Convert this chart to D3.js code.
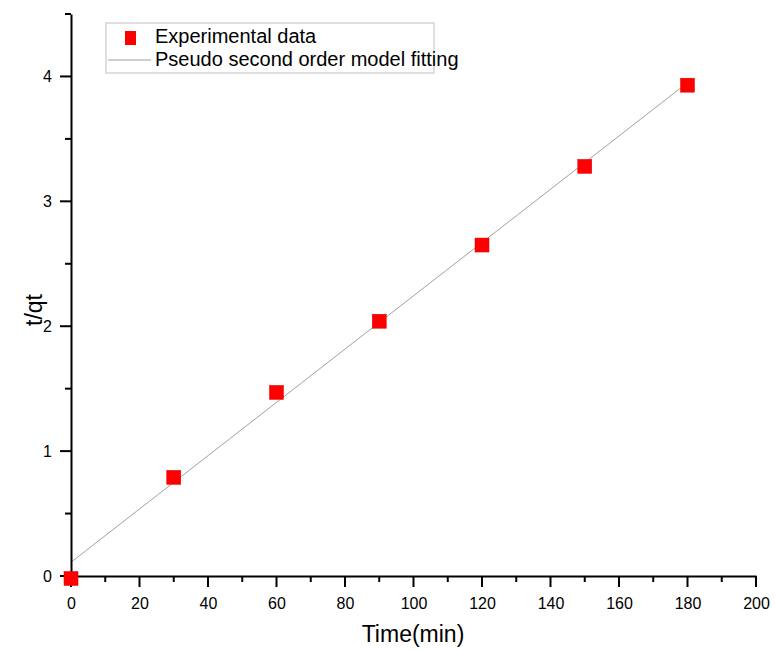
<!DOCTYPE html>
<html><head><meta charset="utf-8">
<script src="https://cdn.jsdelivr.net/npm/d3@7"></script>
<style>body{margin:0;background:#fff;} text{font-family:"Liberation Sans",Arial,sans-serif;}</style>
</head><body>
<svg id="c" width="775" height="650"></svg>
<script>
const timeMin = [0, 30, 60, 90, 120, 150, 180];
const tqt = [-0.02, 0.79, 1.47, 2.04, 2.65, 3.28, 3.93];
const fitTime = [0, 180];
const fitTqt = [0.11, 3.95];
const xTicks = [0,20,40,60,80,100,120,140,160,180,200];
const yTicks = [0,1,2,3,4];
const legendLabels = ["Experimental data", "Pseudo second order model fitting"];

const svg = d3.select("#c");
const x = d3.scaleLinear().domain([0,200]).range([71,756]);
const y = d3.scaleLinear().domain([0,4.5]).range([576,14]);

const xMinor = d3.range(10,200,20);
const yMinor = [0.5,1.5,2.5,3.5,4.5];

// fit line
svg.append("path")
  .datum(fitTime.map((t,i)=>[t,fitTqt[i]]))
  .attr("d", d3.line().x(d=>x(d[0])).y(d=>y(d[1])))
  .attr("fill","none").attr("stroke","#a0a0a0").attr("stroke-width",1);

// axes (labels via d3 axis, tick marks drawn explicitly)
const xAxis = svg.append("g").attr("transform","translate(0,576)")
  .call(d3.axisBottom(x).tickValues(xTicks).tickSize(0).tickPadding(22).tickFormat(d3.format("d")));
const yAxis = svg.append("g").attr("transform","translate(71,0)")
  .call(d3.axisLeft(y).tickValues(yTicks).tickSize(0).tickPadding(19).tickFormat(d3.format("d")));

const tk = svg.append("g").attr("stroke","#000").attr("stroke-width",2);
tk.selectAll("line.xM").data(xTicks).join("line").attr("class","xM")
  .attr("x1",d=>x(d)).attr("x2",d=>x(d)).attr("y1",576).attr("y2",587);
tk.selectAll("line.xm").data(xMinor).join("line").attr("class","xm")
  .attr("x1",d=>x(d)).attr("x2",d=>x(d)).attr("y1",576).attr("y2",582);
tk.selectAll("line.yM").data(yTicks).join("line").attr("class","yM")
  .attr("y1",d=>y(d)).attr("y2",d=>y(d)).attr("x1",60).attr("x2",71);
tk.selectAll("line.ym").data(yMinor).join("line").attr("class","ym")
  .attr("y1",d=>y(d)).attr("y2",d=>y(d)).attr("x1",65).attr("x2",71);

[xAxis,yAxis].forEach(g=>{
  g.select(".domain").attr("stroke","#000").attr("stroke-width",2);
  g.selectAll(".tick text").attr("font-size",16).attr("fill","#000").attr("font-family","Liberation Sans, Arial, sans-serif");
});

// points
svg.append("g").selectAll("rect").data(timeMin.map((t,i)=>[t,tqt[i]])).join("rect")
  .attr("x",d=>x(d[0])-7).attr("y",d=>y(d[1])-7).attr("width",14).attr("height",14)
  .attr("fill","#ff0000").attr("stroke","#e60000").attr("stroke-width",0.5);

// axis titles
svg.append("text").attr("x",413).attr("y",642).attr("text-anchor","middle").attr("font-size",23).text("Time(min)");
svg.append("text").attr("transform","translate(42,310) rotate(-90)").attr("text-anchor","middle").attr("font-size",23).text("t/qt");

// legend
const lg = svg.append("g");
lg.append("rect").attr("x",106).attr("y",23).attr("width",328).attr("height",50)
  .attr("fill","#fff").attr("stroke","#c0c0c0").attr("stroke-width",1);
lg.append("rect").attr("x",125).attr("y",31).attr("width",11).attr("height",14).attr("fill","#ff0000");
lg.append("line").attr("x1",108).attr("x2",151).attr("y1",60).attr("y2",60).attr("stroke","#a0a0a0").attr("stroke-width",1);
lg.selectAll("text.l").data(legendLabels).join("text").attr("class","l")
  .attr("x",155).attr("y",(d,i)=>43+i*23).attr("font-size",20).attr("fill","#000").text(d=>d);
</script>
</body></html>
